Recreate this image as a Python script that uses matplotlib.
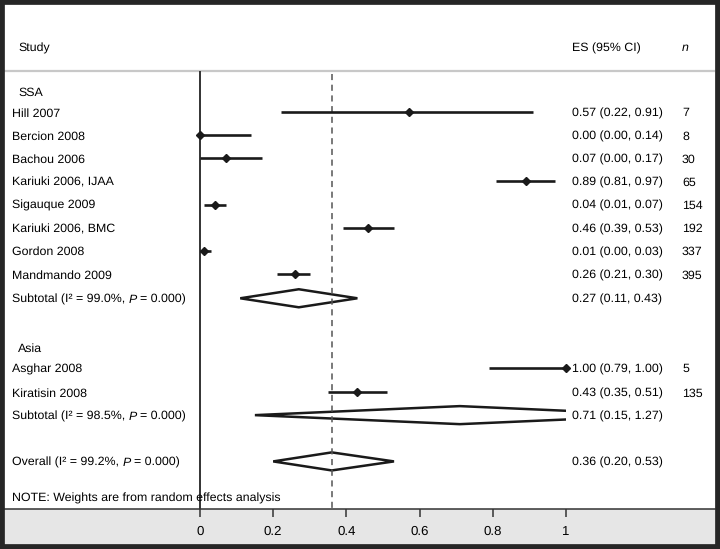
import matplotlib
matplotlib.use('Agg')
import matplotlib.pyplot as plt
from matplotlib.patches import Polygon, Rectangle
from matplotlib.transforms import offset_copy

plt.rcParams['font.family'] = 'Liberation Sans'
plt.rcParams['text.hinting'] = 'no_hinting'

# SSA studies
ssa_names = ['Hill 2007', 'Bercion 2008', 'Bachou 2006', 'Kariuki 2006, IJAA',
             'Sigauque 2009', 'Kariuki 2006, BMC', 'Gordon 2008', 'Mandmando 2009']
ssa_es = [0.57, 0.00, 0.07, 0.89, 0.04, 0.46, 0.01, 0.26]
ssa_lo = [0.22, 0.00, 0.00, 0.81, 0.01, 0.39, 0.00, 0.21]
ssa_hi = [0.91, 0.14, 0.17, 0.97, 0.07, 0.53, 0.03, 0.30]
ssa_n = [7, 8, 30, 65, 154, 192, 337, 395]

# Asia studies
asia_names = ['Asghar 2008', 'Kiratisin 2008']
asia_es = [1.00, 0.43]
asia_lo = [0.79, 0.35]
asia_hi = [1.00, 0.51]
asia_n = [5, 135]

# pooled estimates: SSA subtotal, Asia subtotal, overall
pooled_labels = ['Subtotal', 'Subtotal', 'Overall']
pooled_i2 = ['99.0', '98.5', '99.2']
pooled_p = ['0.000', '0.000', '0.000']
pooled_es = [0.27, 0.71, 0.36]
pooled_lo = [0.11, 0.15, 0.20]
pooled_hi = [0.43, 1.27, 0.53]

xticks = [0, 0.2, 0.4, 0.6, 0.8, 1]
xticklabels = ['0', '0.2', '0.4', '0.6', '0.8', '1']

# row layout (rows counted down from the top)
ssa_rows = [1, 2, 3, 4, 5, 6, 7, 8]
asia_rows = [12.05, 13.1]
pooled_rows = [9.05, 14.1, 16.1]

W, H = 720, 549
fig = plt.figure(figsize=(7.2, 5.49), dpi=100, facecolor='#e6e6e6')
ax = fig.add_axes([4 / W, (H - 509) / H, 711 / W, 505 / H])
ax.set_facecolor('white')
ax.set_xlim((4 - 200) / 366, (715 - 200) / 366)
ax.set_ylim(1 + (509 - 112) / 23.14, 1 + (4 - 112) / 23.14)
renderer = fig.canvas.get_renderer()

fs = 8.9
bl = 0.19  # baseline sits a little below the row centre
xl = ax.get_xlim()[0]
lab_x = xl + 8 / 366
grp_x = xl + 14 / 366
es_x = xl + 568 / 366
n_x = xl + 678 / 366


def label(x, r, s, **kw):
    return ax.text(x, r + bl, s, fontsize=fs, va='baseline', **kw)


def rich_label(x, r, parts):
    # parts drawn one after another, a space between each
    sp = label(x, r, 'a a').get_window_extent(renderer).width
    sp -= label(x, r, 'aa').get_window_extent(renderer).width
    for t in ax.texts[-2:]:
        t.remove()
    off = 0
    for s, style in parts:
        tr = offset_copy(ax.transData, fig=fig, x=off, y=0, units='dots')
        t = ax.text(x, r + bl, s, fontsize=fs, va='baseline', style=style, transform=tr)
        off += t.get_window_extent(renderer).width + sp


header_y = -0.78
ax.axhline(header_y, color='#c8c8c8', lw=1.6)
ax.vlines(0, header_y, ax.get_ylim()[0], color='#333333', lw=1.4)
ax.vlines(pooled_es[2], header_y + 0.12, ax.get_ylim()[0], color='#555555',
          lw=1.1, linestyles=(0, (4, 3)))

label(grp_x, -1.81, 'Study')
label(es_x, -1.81, 'ES (95% CI)')
label(n_x, -1.81, 'n', style='italic')
label(grp_x, 0.12, 'SSA')
label(grp_x, 11.16, 'Asia')

names = ssa_names + asia_names
es = ssa_es + asia_es
lo = ssa_lo + asia_lo
hi = ssa_hi + asia_hi
ns = ssa_n + asia_n
rows = ssa_rows + asia_rows

for name, e, l, h, n, r in zip(names, es, lo, hi, ns, rows):
    ax.plot([l, h], [r, r], color='#1a1a1a', lw=1.9, solid_capstyle='butt')
    ax.plot(e, r, marker='D', color='#1a1a1a', ms=4.2)
    label(lab_x, r, name)
    label(es_x, r, f'{e:.2f} ({l:.2f}, {h:.2f})')
    label(n_x, r, str(n))

clip = Rectangle((-1, -10), 2, 40, transform=ax.transData)
dh = 0.39
for lab, i2, p, e, l, h, r in zip(pooled_labels, pooled_i2, pooled_p, pooled_es,
                                  pooled_lo, pooled_hi, pooled_rows):
    poly = Polygon([[l, r], [e, r - dh], [h, r], [e, r + dh]], closed=True,
                   fill=False, ec='#1a1a1a', lw=1.8)
    ax.add_patch(poly)
    poly.set_clip_path(clip)
    rich_label(lab_x, r, [(f'{lab} (I\u00b2 = {i2}%,', 'normal'), ('P', 'italic'),
                          (f'= {p})', 'normal')])
    label(es_x, r, f'{e:.2f} ({l:.2f}, {h:.2f})')

label(lab_x, 17.64, 'NOTE: Weights are from random effects analysis')

for s in ['top', 'left', 'right']:
    ax.spines[s].set_visible(False)
ax.spines['bottom'].set_color('#333333')
ax.spines['bottom'].set_linewidth(1.1)
ax.set_yticks([])
ax.set_xticks(xticks)
ax.set_xticklabels(xticklabels, fontsize=9.5)
ax.tick_params(axis='x', length=6, width=1.1, color='#333333', pad=6)

fig.patches.append(Rectangle((0, 0), 1, 1, transform=fig.transFigure, fill=False,
                             lw=7, ec='#262626'))

plt.savefig('out.png', dpi=100, facecolor=fig.get_facecolor())
